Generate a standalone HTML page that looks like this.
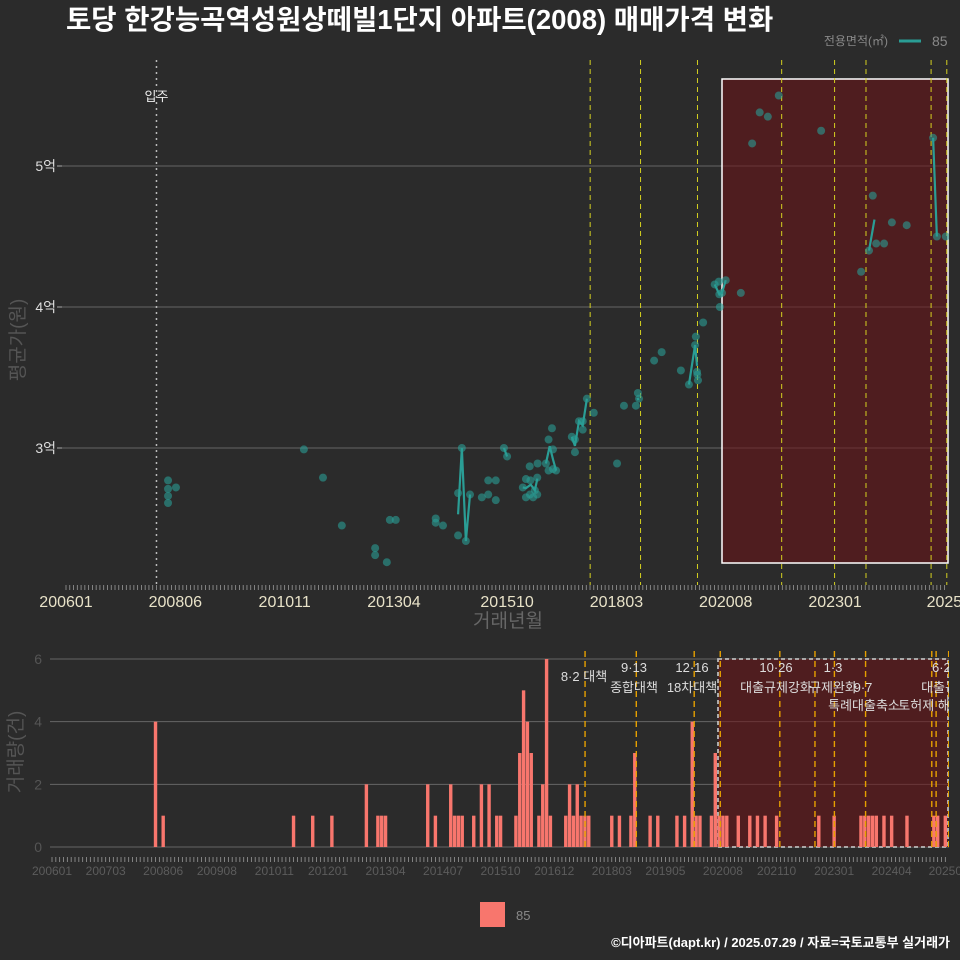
<!DOCTYPE html>
<html><head><meta charset="utf-8">
<style>
html,body{margin:0;padding:0;background:#2b2b2b;}
svg{display:block;font-family:"Liberation Sans","Noto Sans CJK KR",sans-serif;}
</style></head>
<body>
<svg id="chart" width="960" height="960" viewBox="0 0 960 960">
<defs>
<clipPath id="clipTop"><rect x="62" y="55" width="887" height="530"/></clipPath>
<clipPath id="clipBot"><rect x="50" y="650" width="899" height="200"/></clipPath>
</defs>
<rect width="960" height="960" fill="#2b2b2b"/>
<text x="66" y="29" font-size="27.5" font-weight="bold" fill="#ffffff">토당 한강능곡역성원상떼빌1단지 아파트(2008) 매매가격 변화</text>
<g>
<text x="888" y="45" font-size="12" fill="#888" text-anchor="end">전용면적(㎡)</text>
<line x1="899" y1="41" x2="921" y2="41" stroke="#2a9d95" stroke-width="3"/>
<text x="932" y="46" font-size="14" fill="#888">85</text>
</g>
<g id="topPanel"></g>
<g id="botPanel"></g>
<text x="508" y="627" font-size="19" fill="#666" text-anchor="middle">거래년월</text>
<text transform="translate(24,340) rotate(-90)" font-size="19" fill="#555" text-anchor="middle">평균가(원)</text>
<text transform="translate(22,752) rotate(-90)" font-size="19" fill="#555" text-anchor="middle">거래량(건)</text>
<rect x="480" y="902" width="25" height="25" fill="#f8766d"/>
<text x="516" y="920" font-size="13" fill="#888">85</text>
<text x="950" y="947" font-size="13" font-weight="bold" fill="#ffffff" text-anchor="end">©디아파트(dapt.kr) / 2025.07.29 / 자료=국토교통부 실거래가</text>
</svg>
<script>
// ---- data ----
const tradeDates = ["2008-04-03","2008-04-03","2008-04-03","2008-04-03","2008-06-06","2011-04-04","2011-09-06","2012-02-06","2012-11-01","2012-11-01","2013-02-04","2013-02-28","2013-04-15","2014-03-03","2014-03-03","2014-05-01","2014-09-01","2014-09-01","2014-10-01","2014-11-03","2014-12-06","2015-03-10","2015-05-01","2015-05-01","2015-07-01","2015-07-01","2015-09-06","2015-10-01","2016-02-06","2016-03-01","2016-03-01","2016-04-01","2016-04-03","2016-04-06","2016-04-28","2016-05-12","2016-06-01","2016-06-01","2016-06-04","2016-08-10","2016-09-01","2016-09-28","2016-10-06","2016-09-01","2016-10-06","2016-11-01","2017-03-06","2017-04-01","2017-04-01","2017-05-03","2017-06-03","2017-06-03","2017-07-06","2017-09-01","2018-03-06","2018-05-01","2018-08-06","2018-08-22","2018-09-01","2019-01-01","2019-03-01","2019-08-04","2019-10-08","2019-11-27","2019-12-03","2019-12-12","2019-12-15","2019-12-20","2020-02-01","2020-05-03","2020-06-06","2020-06-10","2020-06-14","2020-07-01","2020-08-01","2020-12-01","2021-03-01","2021-05-01","2021-07-06","2021-10-03","2022-09-10","2023-07-28","2023-10-01","2023-11-01","2023-11-28","2024-02-01","2024-04-03","2024-08-01","2025-03-01","2025-04-01","2025-06-12"];
const tradePrices = [2.77,2.71,2.66,2.61,2.72,2.99,2.79,2.45,2.29,2.24,2.19,2.49,2.49,2.50,2.47,2.45,2.38,2.68,3.00,2.34,2.67,2.65,2.77,2.67,2.77,2.63,3.00,2.94,2.72,2.78,2.65,2.87,2.67,2.77,2.65,2.70,2.67,2.79,2.89,2.89,3.06,3.14,2.99,2.84,2.85,2.84,3.08,2.97,3.06,3.19,3.19,3.13,3.35,3.25,2.89,3.30,3.30,3.39,3.35,3.62,3.68,3.55,3.45,3.73,3.79,3.54,3.52,3.48,3.89,4.16,4.18,4.09,4.00,4.10,4.19,4.10,5.16,5.38,5.35,5.50,5.25,4.25,4.40,4.79,4.45,4.45,4.60,4.58,5.20,4.50,4.50];
const volMonths = ["2008-04","2008-06","2011-04","2011-09","2012-02","2012-11","2013-02","2013-03","2013-04","2014-03","2014-05","2014-09","2014-10","2014-11","2014-12","2015-03","2015-05","2015-07","2015-09","2015-10","2016-02","2016-03","2016-04","2016-05","2016-06","2016-08","2016-09","2016-10","2016-11","2017-03","2017-04","2017-05","2017-06","2017-07","2017-08","2017-09","2018-03","2018-05","2018-08","2018-09","2019-01","2019-03","2019-08","2019-10","2019-12","2020-01","2020-02","2020-05","2020-06","2020-07","2020-08","2020-09","2020-12","2021-03","2021-05","2021-07","2021-10","2022-09","2023-01","2023-08","2023-09","2023-10","2023-11","2023-12","2024-02","2024-04","2024-08","2025-03","2025-04","2025-06"];
const volCounts = [4,1,1,1,1,2,1,1,1,2,1,2,1,1,1,1,2,2,1,1,1,3,5,4,3,1,2,6,1,1,2,1,2,1,1,1,1,1,1,3,1,1,1,1,4,1,1,1,3,1,1,1,1,1,1,1,1,1,1,1,1,1,1,1,1,1,1,1,1,1];
const topTickLabels = ["200601","200806","201011","201304","201510","201803","202008","202301","2025"];
const topTickMonths = [0,29,58,87,117,146,175,204,233];
const botTickLabels = ["200601","200703","200806","200908","201011","201201","201304","201407","201510","201612","201803","201905","202008","202110","202301","202404","20250"];
const botTickMonths = [0,14,29,43,58,72,87,102,117,131,146,160,175,189,204,219,233];
const priceTicks = [3,4,5];
const priceTickLabels = ["3억","4억","5억"];
const volTicks = [0,2,4,6];
const policyTopX = ["2017-08-02","2018-09-13","2019-12-16","2021-10-26","2022-12-27","2023-09-07","2025-02-15","2025-06-20"];
const policyBot = ["2017-08-02","2018-09-13","2019-12-16","2020-07-10","2021-10-26","2022-08-01","2023-01-03","2023-09-07","2025-02-15","2025-03-19","2025-06-27"];
const moveInDate = "2008-01-01";

// ---- scales ----
function monthIdx(s){const p=s.split("-").map(Number);return (p[0]-2006)*12+(p[1]-1)+((p[2]||1)-1)/30;}
const xT = m => 66 + m*3.77;
const yT = p => 448 - (p-3)*141;
const xB = m => 52 + m*3.834;
const yB = v => 847 - v*31.33;
const NS="http://www.w3.org/2000/svg";
function mk(tag,attrs,parent){const e=document.createElementNS(NS,tag);for(const k in attrs)e.setAttribute(k,attrs[k]);parent.appendChild(e);return e;}

// ---- top panel ----
const topG=document.getElementById("topPanel");
priceTicks.forEach((p,i)=>{
  const g=mk("line",{x1:62,x2:949,y1:yT(p),y2:yT(p),stroke:"#666","stroke-width":1},topG);
  
  
  const tk=mk("line",{x1:57,x2:62,y1:yT(p),y2:yT(p),stroke:"#aaa"},topG);
  
  
  const t=mk("text",{x:56,y:yT(p)+5,"font-size":14,fill:"#ddd","text-anchor":"end"},topG);
  t.textContent=priceTickLabels[i];
  
  
});
for(let m=0;m<=233;m++){
  const l=mk("line",{x1:xT(m),x2:xT(m),y1:585,y2:590,stroke:"#999","stroke-width":0.8},topG);
  
  
}
topTickLabels.forEach((s,i)=>{
  const t=mk("text",{x:xT(topTickMonths[i]),y:607,"font-size":16,fill:"#e8e2c8","text-anchor":"middle"},topG);
  t.textContent=s;
  
  
});
const tc=mk("g",{"clip-path":"url(#clipTop)"},topG);


const rr=mk("rect",{x:722,y:79,width:226,height:484,fill:"rgba(110,18,22,0.55)",stroke:"#fff","stroke-width":1.5},tc);


const mv=mk("line",{x1:xT(monthIdx(moveInDate)),x2:xT(monthIdx(moveInDate)),y1:60,y2:585,stroke:"#bbb","stroke-width":1.5,"stroke-dasharray":"2,4"},tc);


const mvt=mk("text",{x:xT(monthIdx(moveInDate)),y:101,"font-size":13,fill:"#eee","text-anchor":"middle"},topG);
mvt.textContent="입주";


policyTopX.forEach(d=>{
  const l=mk("line",{x1:xT(monthIdx(d)),x2:xT(monthIdx(d)),y1:60,y2:585,stroke:"#d4d020","stroke-width":1,"stroke-dasharray":"5,4"},tc);
  
  
});
// monthly mean line, connecting consecutive months only
const byMonth={};
tradeDates.forEach((d,i)=>{const k=Math.floor(monthIdx(d));(byMonth[k]=byMonth[k]||[]).push(i);});
const months=Object.keys(byMonth).map(Number).sort((a,b)=>a-b);
let seg=[];
function flush(){if(seg.length>1){const pl=mk("polyline",{points:seg.map(p=>p.join(",")).join(" "),fill:"none",stroke:"#2a9d95","stroke-width":2.2},tc);

}seg=[];}
let prev=null;
months.forEach(m=>{
  const idx=byMonth[m];
  const avg=idx.reduce((s,i)=>s+tradePrices[i],0)/idx.length;
  const mx=idx.reduce((s,i)=>s+monthIdx(tradeDates[i]),0)/idx.length;
  if(prev!==null && m-prev>1) flush();
  seg.push([xT(mx),yT(avg)]);
  prev=m;
});
flush();
tradeDates.forEach((d,i)=>{
  const c=mk("circle",{cx:xT(monthIdx(d)),cy:yT(tradePrices[i]),r:4,fill:"#2a9d95","fill-opacity":0.6},tc);
  
  
});

// ---- bottom panel ----
const botG=document.getElementById("botPanel");
volTicks.forEach(v=>{
  const g=mk("line",{x1:50,x2:949,y1:yB(v),y2:yB(v),stroke:"#666"},botG);
  
  
  const t=mk("text",{x:42,y:yB(v)+5,"font-size":14,fill:"#555","text-anchor":"end"},botG);
  t.textContent=v;
  
  
});
for(let m=0;m<=233;m++){
  const l=mk("line",{x1:xB(m),x2:xB(m),y1:857,y2:862,stroke:"#999","stroke-width":0.8},botG);
  
  
}
botTickLabels.forEach((s,i)=>{
  const t=mk("text",{x:xB(botTickMonths[i]),y:875,"font-size":12,fill:"#5c5c5c","text-anchor":"middle"},botG);
  t.textContent=s;
  
  
});
const bc=mk("g",{"clip-path":"url(#clipBot)"},botG);


const br=mk("rect",{x:718,y:659,width:230,height:188,fill:"rgba(110,18,22,0.55)",stroke:"#bbb","stroke-width":1.8,"stroke-dasharray":"4,3"},bc);


volMonths.forEach((d,i)=>{
  const m=monthIdx(d);
  const b=mk("rect",{x:xB(m)-1.7,y:yB(volCounts[i]),width:3.4,height:yB(0)-yB(volCounts[i]),fill:"#f8766d"},bc);
  
  
});
policyBot.forEach(d=>{
  const l=mk("line",{x1:xB(monthIdx(d)),x2:xB(monthIdx(d)),y1:651,y2:858,stroke:"#e6a000","stroke-width":1.4,"stroke-dasharray":"6,4"},bc);
  
  
});
const notes=[["8·2 대책",584,681],["9·13",634,672],["종합대책",634,692],["12·16",692,672],["18차대책",692,692],["10·26",776,672],["대출규제강화",776,692],["1·3",833,672],["규제완화",833,692],["9·7",863,692],["특례대출축소",864,710],["토허제 해제",930,710],["6·27",945,672],["대출규제",945,692]];
notes.forEach(n=>{
  const t=mk("text",{x:n[1],y:n[2],"font-size":13,fill:"#ddd","text-anchor":"middle"},bc);
  t.textContent=n[0];
  
  
});
</script>
</body></html>
